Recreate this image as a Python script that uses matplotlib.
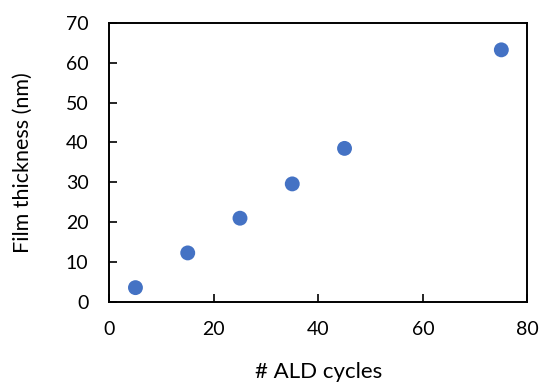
import matplotlib
matplotlib.use("Agg")
import matplotlib.pyplot as plt

# data
ald_cycles = [5, 15, 25, 35, 45, 75]
thickness_nm = [3.6, 12.3, 21.0, 29.6, 38.5, 63.2]

x_ticks = [0, 20, 40, 60, 80]
y_ticks = [0, 10, 20, 30, 40, 50, 60, 70]

plt.rcParams['font.family'] = ['Lato', 'DejaVu Sans']

fig = plt.figure(figsize=(5.42, 3.83), dpi=100)
ax = fig.add_axes([0.2017, 0.2115, 0.7715, 0.7292])

ax.scatter(ald_cycles, thickness_nm, s=115, color='#4472C4', edgecolors='none', zorder=3)

ax.set_xlim(0, 80)
ax.set_ylim(0, 70)
ax.set_xticks(x_ticks)
ax.set_yticks(y_ticks)

ax.tick_params(direction='in', length=6, width=1.2, labelsize=14, colors='black')
ax.tick_params(axis='x', pad=14)
ax.tick_params(axis='y', pad=15)

for sp in ax.spines.values():
    sp.set_linewidth(1.4)
    sp.set_color('black')

ax.set_xlabel('# ALD cycles', fontsize=16, labelpad=17)
ax.set_ylabel('Film thickness (nm)', fontsize=15.5, labelpad=24)

fig.savefig('out.png', dpi=100)
